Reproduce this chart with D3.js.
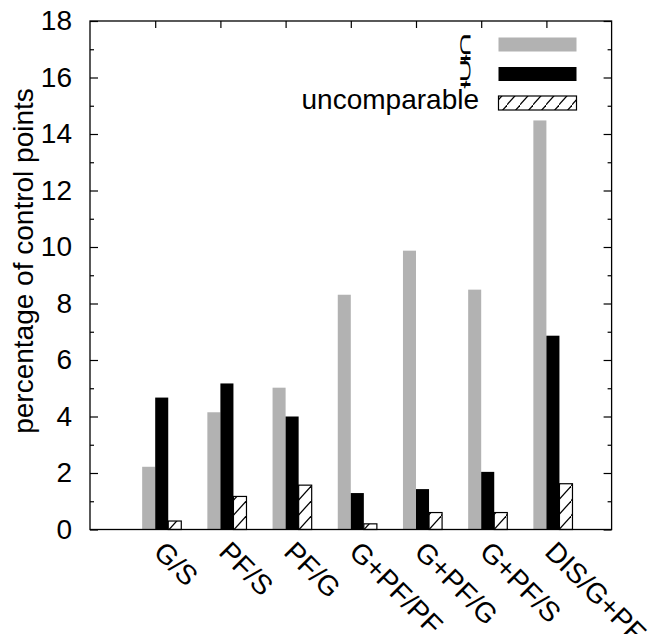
<!DOCTYPE html>
<html>
<head>
<meta charset="utf-8">
<script src="https://cdn.jsdelivr.net/npm/d3@7"></script>
<style>
  body { margin: 0; background: #fff; }
  text { font-family: "Liberation Sans", Arial, sans-serif; }
</style>
</head>
<body>
<div id="chart"></div>
<script>
// data
var categories = ["G/S", "PF/S", "PF/G", "G+PF/PF", "G+PF/G", "G+PF/S", "DIS/G+PF"];
var properSub = [2.22, 4.15, 5.02, 8.31, 9.87, 8.49, 14.48];
var properSup = [4.67, 5.17, 4.00, 1.29, 1.43, 2.04, 6.86];
var uncomparable = [0.30, 1.17, 1.57, 0.20, 0.60, 0.60, 1.62];
var seriesNames = ["\u228A", "\u228B", "uncomparable"];
var yTicks = [0, 2, 4, 6, 8, 10, 12, 14, 16, 18];

var svgWidth = 651;
var svgHeight = 634;
var margin = { top: 21, right: 39.4, bottom: 104.5, left: 90 };
var width = svgWidth - margin.left - margin.right;
var height = svgHeight - margin.top - margin.bottom;
var fontSize = 28;

var svg = d3.select("#chart").append("svg")
    .attr("width", svgWidth)
    .attr("height", svgHeight);

var defs = svg.append("defs");
var pat = defs.append("pattern")
    .attr("id", "hatch")
    .attr("patternUnits", "userSpaceOnUse")
    .attr("width", 13)
    .attr("height", 15);
pat.append("rect").attr("width", 13).attr("height", 15).attr("fill", "#fff");
pat.append("path")
    .attr("d", "M-3,18 L16,-3")
    .attr("stroke", "#000")
    .attr("stroke-width", 1.3);

var g = svg.append("g")
    .attr("transform", `translate(${margin.left}, ${margin.top})`);

var x = d3.scaleLinear().domain([0, 8]).range([0, width]);
var y = d3.scaleLinear().domain([0, 18]).range([height, 0]);
var barW = x(0.2) - x(0);

// bars
var rows = categories.map((c, i) => ({ c: c, i: i + 1, v: [properSub[i], properSup[i], uncomparable[i]] }));
var fills = ["#b2b2b2", "#000", "url(#hatch)"];

[0, 1, 2].forEach(function (s) {
    g.selectAll(".bar" + s)
        .data(rows)
        .enter()
        .append("rect")
        .attr("x", d => x(d.i + (s - 1) * 0.2))
        .attr("y", d => y(d.v[s]))
        .attr("width", barW)
        .attr("height", d => y(0) - y(d.v[s]))
        .attr("fill", fills[s])
        .attr("stroke", s == 2 ? "#000" : "none")
        .attr("stroke-width", 1.2);
});

// axes (ticks pointing inward, gnuplot style)
var minor = d3.range(1, 18, 2);
var noText = () => "";

var left = g.append("g")
    .call(d3.axisLeft(y).tickValues(yTicks).tickSize(-8).tickSizeOuter(0).tickPadding(18));
g.append("g").call(d3.axisLeft(y).tickValues(minor).tickSize(-4).tickSizeOuter(0).tickFormat(noText));
g.append("g").attr("transform", `translate(${width},0)`)
    .call(d3.axisRight(y).tickValues(yTicks).tickSize(-8).tickSizeOuter(0).tickFormat(noText));
g.append("g").attr("transform", `translate(${width},0)`)
    .call(d3.axisRight(y).tickValues(minor).tickSize(-4).tickSizeOuter(0).tickFormat(noText));
g.append("g")
    .call(d3.axisTop(x).tickValues(d3.range(1, 8)).tickSize(-7).tickSizeOuter(0).tickFormat(noText));

g.selectAll(".domain").remove();
g.selectAll(".tick line").attr("stroke", "#000").attr("stroke-width", 1.2);
left.selectAll("text")
    .attr("font-size", fontSize)
    .attr("fill", "#000")
    .style("font-family", "'Liberation Sans', Arial, sans-serif");

g.append("rect")
    .attr("width", width)
    .attr("height", height)
    .attr("fill", "none")
    .attr("stroke", "#000")
    .attr("stroke-width", 1.3);

// rotated category labels
g.selectAll(".xlab")
    .data(rows)
    .enter()
    .append("text")
    .attr("transform", d => `translate(${x(d.i) - 3}, ${height + 24}) rotate(45)`)
    .attr("font-size", fontSize)
    .text(d => d.c);

// y axis title
svg.append("text")
    .attr("transform", "translate(33, 261) rotate(-90)")
    .attr("text-anchor", "middle")
    .attr("font-size", fontSize)
    .text("percentage of control points");

// legend
var legY = [44.5, 74, 103];
var legend = svg.append("g");
legend.selectAll("rect")
    .data(seriesNames)
    .enter()
    .append("rect")
    .attr("x", 498.5)
    .attr("y", (d, i) => legY[i] - 7)
    .attr("width", 78)
    .attr("height", 14)
    .attr("fill", (d, i) => fills[i])
    .attr("stroke", (d, i) => i == 2 ? "#000" : "none")
    .attr("stroke-width", 1.2);

var symBase = [60, 86];
legend.selectAll("text")
    .data(seriesNames)
    .enter()
    .append("text")
    .attr("transform", (d, i) => i == 2
        ? `translate(479, ${legY[i] + 5.5})`
        : `translate(472, ${symBase[i]}) scale(0.38, 0.95)`)
    .attr("text-anchor", "end")
    .attr("font-size", (d, i) => i == 2 ? fontSize : 42)
    .style("font-family", (d, i) => i == 2 ? null : "'DejaVu Sans', sans-serif")
    .text(d => d);
</script>
</body>
</html>
